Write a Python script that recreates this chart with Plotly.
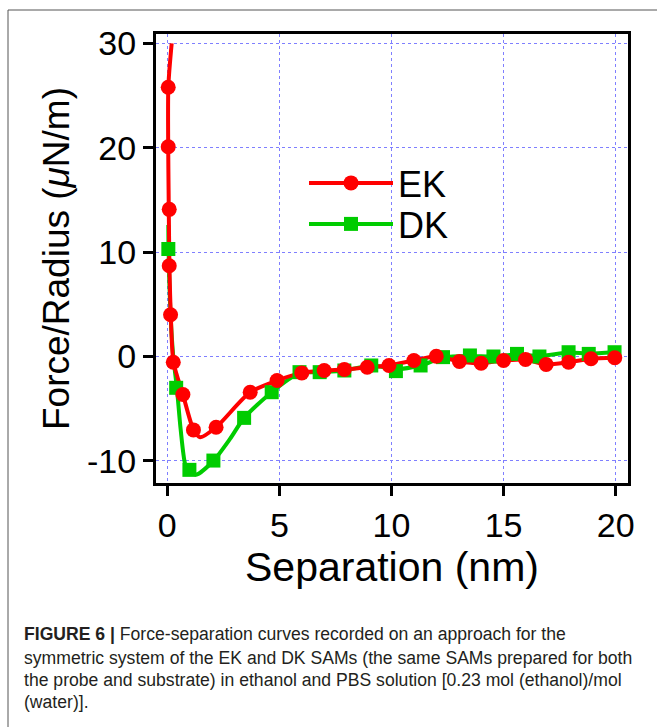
import plotly.graph_objects as go

# ---- data ----
ek_x = [0.045, 0.045, 0.09, 0.09, 0.15, 0.27, 0.70, 1.17, 2.18, 3.70, 4.90, 6.0, 7.0, 7.9,
        8.92, 9.89, 11.0, 12.0, 13.03, 14.0, 15.0, 15.98, 16.9, 17.9, 18.9, 19.96]
ek_y = [25.8, 20.1, 14.1, 8.7, 4.0, -0.55, -3.64, -7.03, -6.78, -3.42, -2.3, -1.57, -1.34, -1.25,
        -1.03, -0.86, -0.38, 0.03, -0.47, -0.64, -0.38, -0.29, -0.77, -0.55, -0.22, -0.12]

dk_x = [0.05, 0.40, 0.99, 2.06, 3.43, 4.66, 5.9, 6.8, 7.9, 9.1, 10.2, 11.3, 12.3, 13.5,
        14.55, 15.6, 16.6, 17.9, 18.8, 19.95]
dk_y = [10.3, -3.0, -10.86, -9.97, -5.88, -3.42, -1.5, -1.5, -1.34, -0.86, -1.4, -0.86, -0.06, 0.1,
        0.0, 0.25, 0.0, 0.41, 0.25, 0.41]

# fitted curves
ek_fit_x = [0.20, 0.05, 0.07, 0.10, 0.16, 0.28, 0.70, 1.17, 1.47, 2.18, 3.70, 4.90, 6.0, 7.0, 7.9,
            8.92, 9.89, 11.0, 12.0, 13.03, 14.0, 15.0, 15.98, 16.9, 17.9, 18.9, 19.96]
ek_fit_y = [30.0, 25.8, 14.1, 8.7, 4.0, -0.55, -3.64, -7.0, -7.73, -6.78, -3.42, -2.3, -1.57, -1.34, -1.25,
            -1.03, -0.86, -0.38, 0.03, -0.47, -0.64, -0.38, -0.29, -0.77, -0.55, -0.22, -0.12]

dk_fit_x = [0.05, 0.06, 0.15, 0.27, 0.43, 0.60, 0.80, 1.00, 1.32, 2.06, 2.80, 3.43, 4.66, 5.9, 6.8,
            7.9, 9.1, 10.2, 11.3, 12.3, 13.5, 14.55, 15.6, 16.6, 17.9, 18.8, 19.95]
dk_fit_y = [12.6, 10.3, 4.0, 0.0, -3.0, -7.0, -10.3, -11.1, -11.3, -10.0, -7.9, -5.88, -3.42, -1.6, -1.5,
            -1.34, -0.86, -1.2, -0.86, -0.1, 0.05, 0.0, 0.2, 0.05, 0.38, 0.28, 0.4]

series_names = ["EK", "DK"]
x_ticks = [0, 5, 10, 15, 20]
y_ticks = [-10, 0, 10, 20, 30]
y_ticktext = ["-10", "0", "10", "20", "30"]

RED = "#FF0000"
GREEN = "#00CC00"
FONT = "Liberation Sans, Arial, sans-serif"

fig = go.Figure()

# fitted lines
fig.add_trace(go.Scatter(x=dk_fit_x, y=dk_fit_y, mode="lines", showlegend=False,
                         line=dict(color=GREEN, width=4, shape="spline", smoothing=0.7),
                         hoverinfo="skip"))
fig.add_trace(go.Scatter(x=ek_fit_x, y=ek_fit_y, mode="lines", showlegend=False,
                         line=dict(color=RED, width=4, shape="spline", smoothing=0.7),
                         hoverinfo="skip"))
# markers
fig.add_trace(go.Scatter(x=dk_x, y=dk_y, mode="markers", showlegend=False,
                         marker=dict(symbol="square", size=14, color=GREEN)))
fig.add_trace(go.Scatter(x=ek_x, y=ek_y, mode="markers", showlegend=False,
                         marker=dict(symbol="circle", size=15, color=RED)))
# legend entries (each in its own legend box)
fig.add_trace(go.Scatter(x=[None], y=[None], mode="lines+markers", name=series_names[0],
                         line=dict(color=RED, width=4), legend="legend",
                         marker=dict(symbol="circle", size=15, color=RED)))
fig.add_trace(go.Scatter(x=[None], y=[None], mode="lines+markers", name=series_names[1],
                         line=dict(color=GREEN, width=4), legend="legend2",
                         marker=dict(symbol="square", size=14, color=GREEN)))

axis_common = dict(
    showline=True, linecolor="black", linewidth=3, mirror=True,
    ticks="outside", ticklen=10, tickwidth=3, tickcolor="black",
    showgrid=True, gridcolor="#7F7FFF", gridwidth=1, griddash="dot",
    zeroline=False, tickfont=dict(family=FONT, size=34, color="black"),
)

fig.update_xaxes(range=[-0.5, 20.55], tickvals=x_ticks,
                 title=dict(text="Separation (nm)", font=dict(family=FONT, size=41, color="black"),
                            standoff=6),
                 **axis_common)
fig.update_yaxes(range=[-12.12, 30.9], tickvals=y_ticks, ticktext=y_ticktext,
                 title=dict(text="Force/Radius (<i>μ</i>N/m)",
                            font=dict(family=FONT, size=37, color="black"), standoff=7),
                 **axis_common)

caption_lines = [
    "<b>FIGURE 6 |</b> Force-separation curves recorded on an approach for the",
    "symmetric system of the EK and DK SAMs (the same SAMs prepared for both",
    "the probe and substrate) in ethanol and PBS solution [0.23 mol (ethanol)/mol",
    "(water)].",
]
caption_y = [-0.336, -0.390, -0.439, -0.488]
annotations = []
for line, yy in zip(caption_lines, caption_y):
    annotations.append(dict(text=line, xref="paper", yref="paper", x=-0.284, y=yy,
                            xanchor="left", yanchor="middle", showarrow=False,
                            font=dict(family=FONT, size=17.6, color="#231F20")))

# pixel -> paper helpers for decorations
def px_x(p):
    return (p - 156) / 472.0

def px_y(p):
    return (483 - p) / 449.0

shapes = [
    dict(type="line", xref="paper", yref="paper", x0=px_x(8), x1=px_x(700), y0=px_y(10), y1=px_y(10),
         line=dict(color="#555555", width=1)),
    dict(type="line", xref="paper", yref="paper", x0=px_x(8), x1=px_x(8), y0=px_y(10), y1=px_y(740),
         line=dict(color="#555555", width=1)),
    # longer legend key lines
    dict(type="line", xref="paper", yref="paper", x0=px_x(316), x1=px_x(379), y0=px_y(183), y1=px_y(183),
         line=dict(color=RED, width=4)),
    dict(type="line", xref="paper", yref="paper", x0=px_x(316), x1=px_x(379), y0=px_y(224), y1=px_y(224),
         line=dict(color=GREEN, width=4)),
]

legend_common = dict(xanchor="left", yanchor="middle", bgcolor="rgba(0,0,0,0)", itemwidth=84,
                     font=dict(family=FONT, size=36, color="black"))

fig.update_layout(
    width=657, height=727,
    margin=dict(l=156, r=29, t=34, b=244, autoexpand=False),
    paper_bgcolor="white", plot_bgcolor="white",
    font=dict(family=FONT, color="black"),
    legend=dict(x=px_x(304), y=px_y(183), **legend_common),
    legend2=dict(x=px_x(304), y=px_y(224), **legend_common),
    annotations=annotations, shapes=shapes,
)

fig.write_html("out.html")
